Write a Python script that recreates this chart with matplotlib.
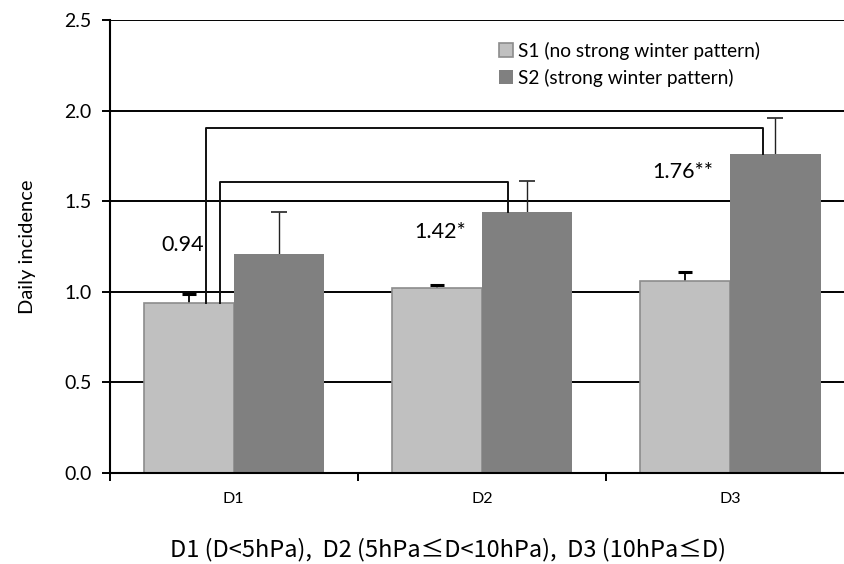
import matplotlib.pyplot as plt
import numpy as np

# data
categories = ["D1", "D2", "D3"]
s1_values = [0.94, 1.02, 1.06]
s1_err = [0.05, 0.015, 0.05]
s2_values = [1.21, 1.44, 1.76]
s2_err = [0.23, 0.17, 0.20]
s1_label = "S1 (no strong winter pattern)"
s2_label = "S2 (strong winter pattern)"
annotations = ["0.94", "1.42*", "1.76**"]
y_ticks = [0.0, 0.5, 1.0, 1.5, 2.0, 2.5]
x_caption = "D1 (D<5hPa),  D2 (5hPa≤D<10hPa),  D3 (10hPa≤D)"

plt.rcParams['font.family'] = ['Lato', 'DejaVu Sans']

fig = plt.figure(figsize=(8.45, 5.64), dpi=100)
ax = fig.add_axes([0.1296, 0.1613, 0.8817, 0.8032])

x = np.arange(len(categories))
w = 0.363

for yv in y_ticks[1:]:
    ax.axhline(yv, color="black", lw=1.4, zorder=1)

ax.bar(x - w / 2, s1_values, w, color="#c0c0c0", edgecolor="#8c8c8c",
       lw=1.2, label=s1_label, zorder=2)
ax.bar(x + w / 2, s2_values, w, color="#808080", edgecolor="#808080",
       lw=0, label=s2_label, zorder=2)
# symmetric bars drawn behind the columns, so only the upper half shows
ax.errorbar(x - w / 2, s1_values, yerr=s1_err, fmt="none",
            ecolor="black", elinewidth=1.3, capsize=5, capthick=2.2, zorder=1.5)
ax.errorbar(x + w / 2, s2_values, yerr=s2_err, fmt="none",
            ecolor="#222222", elinewidth=1, capsize=6, capthick=1.2, zorder=1.5)

# significance brackets
ax.plot([-0.111, -0.111, 2.131, 2.131], [s1_values[0], 1.904, 1.904, s2_values[2]],
        color="#111111", lw=1.4, zorder=4)
ax.plot([-0.055, -0.055, 1.105, 1.105], [s1_values[0], 1.606, 1.606, s2_values[1]],
        color="#111111", lw=1.4, zorder=4)

ann_pos = [(-0.204, 1.258), (0.831, 1.33), (1.81, 1.66)]
for txt, (px, py) in zip(annotations, ann_pos):
    ax.text(px, py, txt, ha="center", va="center", fontsize=15.5)

ax.set_xlim(-0.5, 2.5)
ax.set_ylim(0, 2.5)
ax.set_yticks(y_ticks)
ax.set_yticklabels([f"{v:.1f}" for v in y_ticks], fontsize=14)
ax.set_xticks([-0.5, 0.5, 1.5])
ax.set_xticklabels([])
ax.set_xticks(x, minor=True)
ax.set_xticklabels(categories, minor=True, fontsize=11.5)
ax.tick_params(axis="x", which="minor", length=0, pad=14)
ax.tick_params(axis="x", which="major", length=6, width=1.4, direction="out")
ax.tick_params(axis="y", length=6, width=1.4, direction="out", pad=7)

for side in ["top", "right"]:
    ax.spines[side].set_visible(False)
ax.spines["left"].set_linewidth(1.5)
ax.spines["bottom"].set_linewidth(1.5)

ax.set_ylabel("Daily incidence", fontsize=14.5, labelpad=20)
fig.text(0.53, 0.025, x_caption, ha="center", va="center", fontsize=17,
         family=["Noto Sans CJK JP", "DejaVu Sans"])

leg = ax.legend(loc="upper left", bbox_to_anchor=(0.5, 0.99), frameon=False,
                fontsize=13.8, handlelength=0.7, handleheight=0.7,
                handletextpad=0.3, labelspacing=0.45)

fig.savefig("out.png", dpi=100)
